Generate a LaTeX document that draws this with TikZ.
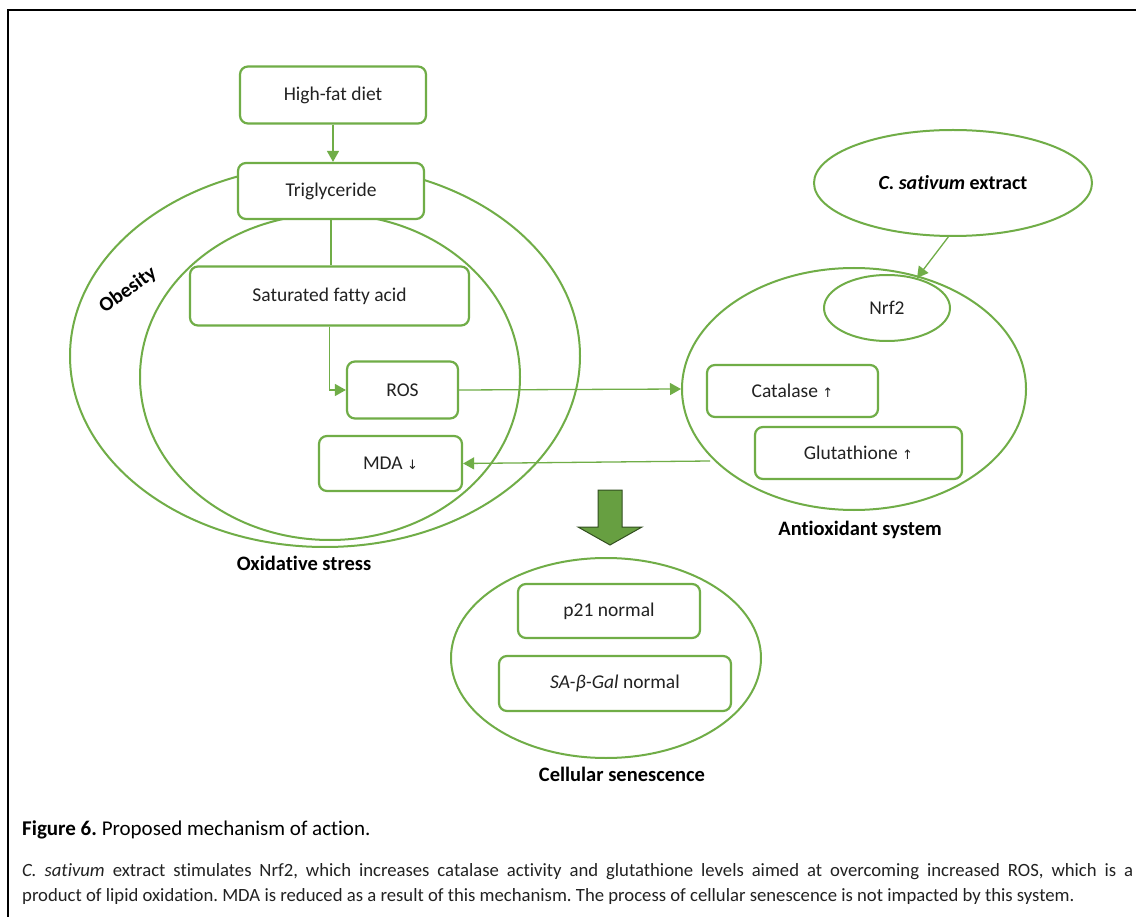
\documentclass[tikz,border=0pt]{standalone}
\usepackage{fontspec}
\setmainfont{Carlito}[Ligatures={NoCommon}]
\newfontfamily\symfont{DejaVu Sans}
\usetikzlibrary{arrows.meta,shapes.geometric}
\definecolor{grn}{HTML}{70AD47}
\definecolor{txt}{HTML}{222222}
\frenchspacing
\newcommand{\upar}{{\symfont\fontsize{13}{13}\selectfont ↑}}
\newcommand{\dnar}{{\symfont\fontsize{13}{13}\selectfont ↓}}
\tikzset{
  box/.style={draw=grn, line width=2.2pt, rounded corners=8pt, fill=white, inner sep=0pt,
    font=\fontsize{19.5}{22}\selectfont, text=txt},
  ell/.style={draw=grn, line width=2pt, ellipse, inner sep=0pt},
  lbl/.style={font=\bfseries\fontsize{20.5}{23}\selectfont, text=black},
  conn/.style={draw=grn, line width=1.3pt, -{Triangle[length=11pt,width=12pt]}},
  plain/.style={draw=grn, line width=1.3pt}
}
\begin{document}
\frenchspacing
\begin{tikzpicture}[x=1pt,y=-1pt]
\useasboundingbox (0,0) rectangle (1136,917);
\fill[white] (0,0) rectangle (1136,917);
\draw[line width=2.6pt] (8,917) -- (8,10) -- (1136,10);

% ellipses (containers)
\node[ell, minimum width=510, minimum height=382] (obes) at (325,356) {};
\node[ell, minimum width=380, minimum height=326] (oxs) at (330,377) {};
\node[ell, minimum width=344, minimum height=242] (anti) at (854,389) {};
\node[ell, minimum width=278, minimum height=106] (csat) at (953,183)
  {\fontsize{20}{23}\selectfont\bfseries\textit{C. sativum} extract};
\node[ell, minimum width=126, minimum height=66, font=\fontsize{19.5}{22}\selectfont, text=txt] (nrf) at (887,308) {Nrf2};
\node[ell, minimum width=310, minimum height=200] (sen) at (606,658) {};

% boxes
\node[box, minimum width=186, minimum height=57] (hfd) at (333,95) {High-fat diet};
\node[box, minimum width=186, minimum height=56] (tri) at (331,191) {Triglyceride};
\node[box, minimum width=279, minimum height=59] (sfa) at (329.5,296) {Saturated fatty acid};
\node[box, minimum width=111, minimum height=57] (ros) at (402.5,390) {ROS};
\node[box, minimum width=143, minimum height=55] (mda) at (390.5,463.5) {MDA \dnar};
\node[box, minimum width=171, minimum height=52] (cat) at (792.5,391) {Catalase \upar};
\node[box, minimum width=207, minimum height=52] (glu) at (858.5,453) {Glutathione \upar};
\node[box, minimum width=182, minimum height=54] (p21) at (609,611) {p21 normal};
\node[box, minimum width=232, minimum height=55] (sag) at (615,683.5) {\textit{SA-β-Gal} normal};

% labels
\node[lbl, rotate=36] (lobes) at (128,290) {Obesity};
\node[lbl] (loxs) at (304,563) {Oxidative stress};
\node[lbl] (lanti) at (860,530) {Antioxidant system};
\node[lbl] (lsen) at (622,774) {Cellular senescence};

% connectors
\draw[conn] (hfd.south) -- (hfd.south |- tri.north);
\draw[plain] (tri.south) -- (tri.south |- sfa.north);
\draw[conn] (sfa.south) |- (ros.west);
\draw[conn] (ros.east) -- (anti.west);
\coordinate (mdafrom) at (710,461);
\draw[conn] (mdafrom) -- (mda.east);
\draw[conn] (csat.265) -- (nrf.45);

% big arrow
\draw[fill=grn!92!black, draw=grn!45!black, line width=1pt]
  (598,490) -- (622,490) -- (622,527) -- (642,527) -- (610,545) -- (578,527) -- (598,527) -- cycle;

% caption
\node[anchor=west, inner sep=0pt, font=\fontsize{21}{24}\selectfont, text=black] (cap) at (22,830)
  {\textbf{Figure 6.} Proposed mechanism of action.};
\node[anchor=west, inner sep=0pt, font=\fontsize{18.7}{22}\selectfont, text=txt] (cap1) at (22,872)
  {\makebox[1111pt][s]{\textit{C. sativum} extract stimulates Nrf2, which increases catalase activity and glutathione levels aimed at overcoming increased ROS, which is a}};
\node[anchor=west, inner sep=0pt, font=\fontsize{18.7}{22}\selectfont, text=txt] (cap2) at (22,897)
  {product of lipid oxidation. MDA is reduced as a result of this mechanism. The process of cellular senescence is not impacted by this system.};
\end{tikzpicture}
\end{document}
